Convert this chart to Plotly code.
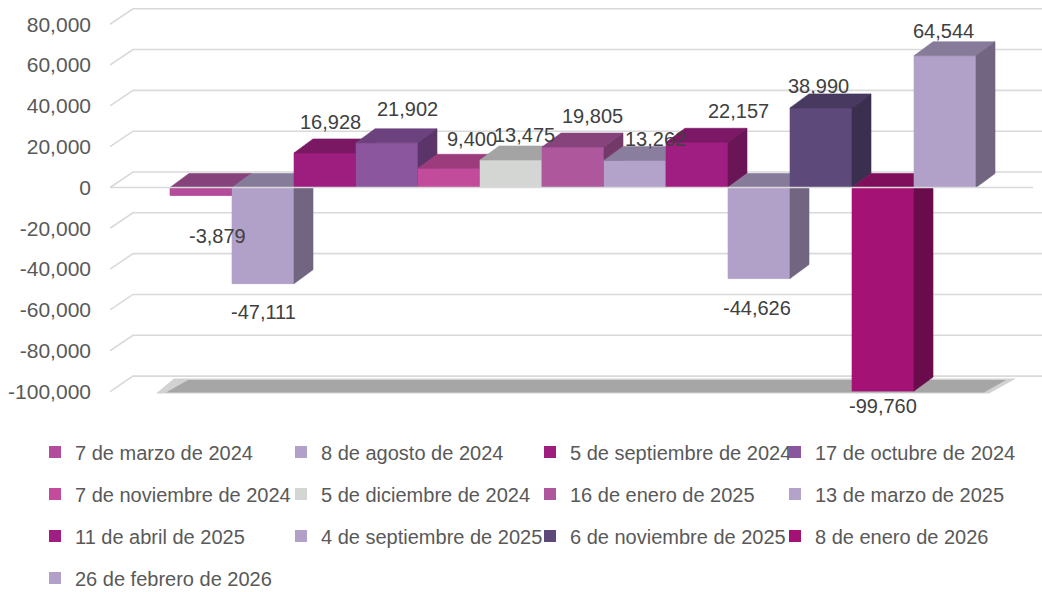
import plotly.graph_objects as go

# ---------------- data ----------------
fechas = [
    "7 de marzo de 2024", "8 de agosto de 2024", "5 de septiembre de 2024", "17 de octubre de 2024",
    "7 de noviembre de 2024", "5 de diciembre de 2024", "16 de enero de 2025", "13 de marzo de 2025",
    "11 de abril de 2025", "4 de septiembre de 2025", "6 de noviembre de 2025", "8 de enero de 2026",
    "26 de febrero de 2026",
]
valores = [-3879, -47111, 16928, 21902, 9400, 13475, 19805, 13262, 22157, -44626, 38990, -99760, 64544]
y_ticks = [-100000, -80000, -60000, -40000, -20000, 0, 20000, 40000, 60000, 80000]
y_tick_labels = [f"{t:,}" for t in y_ticks]

# ---------------- styles ----------------
front_colors = ["#B44C9C", "#B1A1C9", "#9E1E80", "#8B569E", "#C34B9B", "#D4D6D4", "#AE579D",
                "#B3A3CA", "#A01E82", "#B1A1C9", "#5D4A7B", "#A41276", "#B1A1C9"]
top_colors = ["#86427A", "#877B9A", "#7B1864", "#6C427E", "#9C3C7D", "#A3A4A3", "#87447C",
              "#8A7E9E", "#7C1865", "#877B9A", "#47395F", "#7F0E5B", "#877B9A"]
side_colors = ["#6E3563", "#716581", "#681454", "#5B3569", "#84336A", "#8C8D8C", "#733A69",
               "#746883", "#691556", "#716581", "#3B2F4F", "#6A0B4C", "#716581"]
# label nudges in pixels (Excel 3D label placement)
label_dx_px = [16, 0, 5, 20, 23, 13, 19, 20, 41, -2, -3, 0, -2]
label_dy_px = [-41, -28, 31, 34, 29, 25, 31, 21, 31, -29, 22, -15, 25]

FONT = "Liberation Sans, Arial, sans-serif"
W, H = 1042, 592
ML, MR, MT, MB = 110, 0, 0, 192
plot_w = W - ML - MR
plot_h = H - MT - MB
PX_PER_CAT = 62.0
FIRST_CAT_PX = 91.0          # centre of first category inside plot area
ZERO_PX = 187.5              # zero level from top of plot area
PX_PER_UNIT = 0.002041

x_range = [-FIRST_CAT_PX / PX_PER_CAT, (plot_w - FIRST_CAT_PX) / PX_PER_CAT]
y_range = [-(plot_h - ZERO_PX) / PX_PER_UNIT, ZERO_PX / PX_PER_UNIT]


def dx(px):
    return px / PX_PER_CAT


def dy(px):
    return px / PX_PER_UNIT


fig = go.Figure()

# back gridlines (3D walls)
gx, gy = [], []
for t in y_ticks:
    gx += [x_range[0], x_range[0] + dx(23), x_range[1], None]
    gy += [t, t + dy(15.5), t + dy(15.5), None]
fig.add_trace(go.Scatter(x=gx, y=gy, mode="lines", line=dict(color="#D9D9D9", width=1.6),
                         hoverinfo="skip", showlegend=False))

# floor shadow
n = len(valores)
fy0 = y_ticks[0] - dy(2)
fy1 = y_ticks[0] + dy(13)
fig.add_trace(go.Scatter(
    x=[-0.5 - dx(14), n - 0.5 + dx(13), n - 0.5 + dx(40), -0.5 + dx(4), -0.5 - dx(14)],
    y=[fy0, fy0, fy1, fy1, fy0], fill="toself", fillcolor="#D2D2D2", mode="lines",
    line=dict(width=0, color="#D2D2D2"), hoverinfo="skip", showlegend=False))
fig.add_trace(go.Scatter(
    x=[-0.5 - dx(4), n - 0.5 + dx(8), n - 0.5 + dx(30), -0.5 + dx(18), -0.5 - dx(4)],
    y=[fy0 + dy(1), fy0 + dy(1), fy1 - dy(1.5), fy1 - dy(1.5), fy0 + dy(1)], fill="toself",
    fillcolor="#A6A6A6", mode="lines", line=dict(width=0, color="#A6A6A6"),
    hoverinfo="skip", showlegend=False))

# legend columns (4 columns, items fill row by row)
N_COLS = 4
legend_ids = ["legend", "legend2", "legend3", "legend4"]

# real bars (legend + hover), drawn from the data
for i, (name, v) in enumerate(zip(fechas, valores)):
    fig.add_trace(go.Bar(
        x=[i], y=[v], width=1, name=name, legend=legend_ids[i % N_COLS], legendgroup=f"g{i}",
        marker=dict(color=front_colors[i], line=dict(width=0)),
        hovertemplate=name + ": %{y:,}<extra></extra>"))

# 3D faces, drawn left to right so right neighbours overlap
BDX, BDY = dx(19), dy(14)
for i, v in enumerate(valores):
    lo, hi = min(0, v), max(0, v)
    xl, xr = i - 0.5, i + 0.5
    faces = [
        ([xl, xr, xr, xl, xl], [lo, lo, hi, hi, lo], front_colors[i]),
        ([xl, xr, xr + BDX, xl + BDX, xl], [hi, hi, hi + BDY, hi + BDY, hi], top_colors[i]),
        ([xr, xr + BDX, xr + BDX, xr, xr], [lo, lo + BDY, hi + BDY, hi, lo], side_colors[i]),
    ]
    for fx, fyv, col in faces:
        fig.add_trace(go.Scatter(x=fx, y=fyv, fill="toself", fillcolor=col, mode="lines",
                                 line=dict(color=col, width=0.6), hoverinfo="skip",
                                 showlegend=False))

# front zero line
fig.add_trace(go.Scatter(x=[x_range[0], x_range[1] - dx(9)], y=[0, 0], mode="lines",
                         line=dict(color="#D9D9D9", width=1.6), hoverinfo="skip",
                         showlegend=False))

# data labels
for i, v in enumerate(valores):
    fig.add_annotation(x=i, y=v, text=f"{v:,}", showarrow=False,
                       xshift=label_dx_px[i], yshift=label_dy_px[i],
                       font=dict(family=FONT, size=20, color="#404040"))

LEG_FONT = 20
item_h = max(LEG_FONT * 1.3, 16) + 3
row_gap = 42
col_left_px = [35, 281, 530, 775]
first_row_px = 452
layout_legends = {}
for k, key in enumerate(legend_ids):
    layout_legends[key] = dict(
        orientation="v", x=(col_left_px[k] - ML) / plot_w, xanchor="left",
        y=(plot_h - (first_row_px - 5 - item_h / 2 - MT)) / plot_h, yanchor="top",
        tracegroupgap=row_gap - item_h, bgcolor="rgba(0,0,0,0)",
        font=dict(family=FONT, size=LEG_FONT, color="#595959"),
        itemclick=False, itemdoubleclick=False)

fig.update_layout(
    width=W, height=H, margin=dict(l=ML, r=MR, t=MT, b=MB, pad=0, autoexpand=False),
    paper_bgcolor="white", plot_bgcolor="white", barmode="overlay",
    font=dict(family=FONT, size=20, color="#595959"),
    xaxis=dict(range=x_range, visible=False, fixedrange=True),
    yaxis=dict(range=y_range, tickvals=y_ticks, ticktext=y_tick_labels, showgrid=False,
               zeroline=False, showline=False, ticks="", ticklabelstandoff=18, automargin=False,
               tickfont=dict(family=FONT, size=21, color="#595959"), fixedrange=True),
    **layout_legends,
)

fig.write_html("out.html")
